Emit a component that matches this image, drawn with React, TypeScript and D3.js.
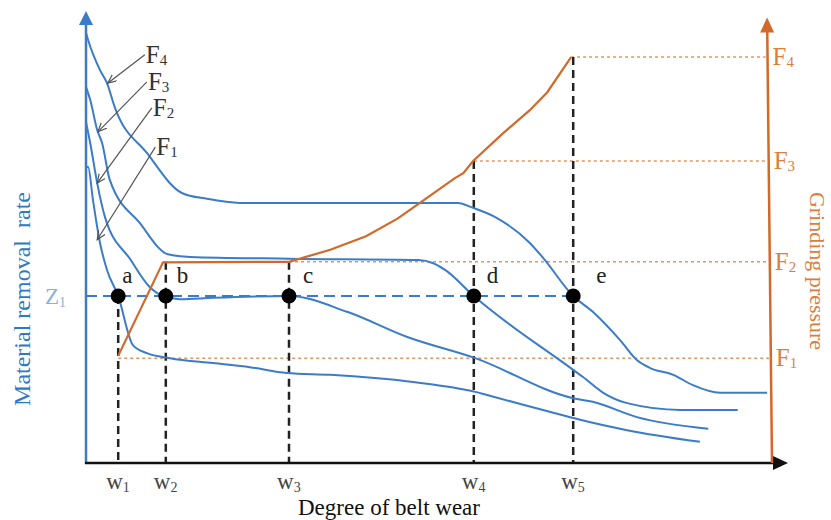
import React from "react";
import * as d3 from "d3";

const W = 831;
const H = 520;

// x: degree of belt wear (0..100), left y: material removal rate (0..100), right y: grinding pressure (0..100)
const wearTicks = [4.6, 11.4, 29.0, 55.4, 69.6];
const wearTickLabels = ["1", "2", "3", "4", "5"];
const pointLabels = ["a", "b", "c", "d", "e"];
const z1Rate = 37.1;
const pressureLevels = [23.3, 44.7, 67.1, 90.2]; // F1..F4
const pressureLabels = ["1", "2", "3", "4"];

// removal rate curves, one per grinding pressure
const f1Curve: [number, number][] = [
  [0, 65.8], [0.3, 65.8], [1.0, 58.4], [2.0, 48.9], [3.0, 42.9], [4.6, 37.1],
  [6.7, 26.2], [8.7, 24.4], [12.0, 23.3], [18.1, 22.2], [23.4, 21.3], [28.7, 20.0],
  [34.9, 19.6], [46.7, 18.0], [55.6, 15.8], [57.3, 15.1], [69.6, 10.0], [70.6, 9.6],
  [77.3, 7.3], [87.7, 4.7],
];
const f2Curve: [number, number][] = [
  [0, 75.8], [0.6, 71.1], [1.6, 62.2], [2.7, 54.7], [6.4, 45.1], [9.1, 39.1],
  [11.0, 37.1], [13.4, 36.4], [18.1, 36.7], [29.0, 37.1], [37.3, 33.6], [45.9, 28.0],
  [55.6, 23.3], [69.6, 14.4], [72.4, 13.6], [78.7, 10.2], [88.9, 7.6],
];
const f3Curve: [number, number][] = [
  [0, 83.6], [0.6, 80.7], [1.6, 74.0], [2.3, 71.1], [3.4, 62.9], [7.7, 53.3],
  [11.7, 46.4], [14.9, 45.8], [29.0, 45.4], [47.5, 45.1], [49.6, 44.4], [51.3, 42.9],
  [55.4, 37.1], [69.6, 20.7], [71.0, 19.1], [73.9, 15.6], [77.3, 13.3], [84.9, 11.8],
  [93.1, 11.8],
];
const f4Curve: [number, number][] = [
  [0, 95.6], [0.3, 94.0], [2.0, 87.3], [3.0, 84.4], [4.1, 79.1], [8.7, 68.9],
  [13.7, 60.0], [17.3, 58.7], [22.0, 57.8], [53.1, 57.8], [55.3, 56.7], [58.4, 54.7],
  [63.4, 48.9], [65.3, 45.6], [69.6, 37.1], [72.4, 33.6], [76.3, 27.3], [78.7, 22.9],
  [80.6, 21.1], [83.9, 19.6], [86.7, 17.3], [90.6, 15.6], [97.3, 15.6],
];
const rateCurves = [f1Curve, f2Curve, f3Curve, f4Curve];

// grinding pressure vs wear
const pressureCurve: [number, number][] = [
  [4.6, 23.8], [11.0, 44.6], [29.0, 44.7], [34.9, 47.4], [40.0, 50.4], [44.5, 54.3], [47.7, 57.8],
  [52.7, 63.3], [53.9, 64.4], [55.3, 67.1], [59.6, 73.3], [63.4, 78.4], [65.9, 82.4],
  [69.3, 90.2],
];

// annotation arrows F1..F4: label anchor -> point on curve
const noteFrom: [number, number][] = [[9.9, 70.2], [9.4, 78.9], [8.7, 84.7], [8.4, 90.7]];
const noteTo: [number, number][] = [[1.6, 49.6], [1.6, 62.2], [1.7, 73.6], [3.1, 84.4]];

const BLUE = "#3b7cc8";
const ORANGE = "#d2692a";
const SERIF = "Liberation Serif, Times New Roman, DejaVu Serif, serif";
const serif = (size: number, fill: string) => ({ fontFamily: SERIF, fontSize: size, fill });

export default function App() {
  const x = d3.scaleLinear().domain([0, 100]).range([86, 786]);
  const y = d3.scaleLinear().domain([0, 100]).range([463, 13]);
  const p = d3.scaleLinear().domain([0, 100]).range([463, 13]);

  const x0 = x(0);
  const y0 = y(0);
  // right axis leans a little to the left towards the top
  const rightX = d3.scaleLinear().domain([y0, p(99)]).range([x(98), x(97.3)]);

  const rateLine = d3
    .line<[number, number]>()
    .x((d) => x(d[0]))
    .y((d) => y(d[1]))
    .curve(d3.curveMonotoneX);
  const pressLine = d3
    .line<[number, number]>()
    .x((d) => x(d[0]))
    .y((d) => p(d[1]));

  // where each wear mark's dashed drop starts
  const dropTops = [
    y(z1Rate),
    p(pressureLevels[1]),
    p(pressureLevels[1]),
    p(pressureLevels[2]),
    p(pressureLevels[3]),
  ];
  // start of dotted pressure guides F1..F4
  const guideStart = [wearTicks[0], wearTicks[2], wearTicks[3], pressureCurve[pressureCurve.length - 1][0]];
  const labelShift = [4, 11, 14, 13, 23];

  const topTip = y(100) - 2;
  const rightTip = p(99);
  const xTip = x(100) + 2;

  return (
    <svg width={W} height={H} style={{ position: "absolute", left: 0, top: 0, background: "#fff" }}>
      <defs>
        <marker id="open" markerUnits="userSpaceOnUse" markerWidth={12} markerHeight={12} refX={9} refY={4} orient="auto">
          <path d="M0,0 L9,4 L0,8" fill="none" stroke="#555" strokeWidth={1.2} />
        </marker>
      </defs>

      {/* dotted pressure guides */}
      {pressureLevels.map((lv, i) => (
        <line
          key={"g" + i}
          x1={x(guideStart[i])}
          x2={rightX(p(lv)) - 2}
          y1={p(lv)}
          y2={p(lv)}
          stroke="#e8955c"
          strokeWidth={1.5}
          strokeDasharray="3 3"
        />
      ))}

      {/* black dashed drops */}
      {wearTicks.map((w, i) => (
        <line
          key={"v" + i}
          x1={x(w)}
          x2={x(w)}
          y1={dropTops[i]}
          y2={y0}
          stroke="#222"
          strokeWidth={2.5}
          strokeDasharray="8 5"
        />
      ))}

      {/* Z1 level */}
      <line
        x1={x0}
        x2={x(wearTicks[4])}
        y1={y(z1Rate)}
        y2={y(z1Rate)}
        stroke={BLUE}
        strokeWidth={2}
        strokeDasharray="11 6"
      />

      {/* removal rate curves */}
      {rateCurves.map((c, i) => (
        <path key={"c" + i} d={rateLine(c) ?? ""} fill="none" stroke={BLUE} strokeWidth={2} />
      ))}

      {/* pressure curve */}
      <path d={pressLine(pressureCurve) ?? ""} fill="none" stroke={ORANGE} strokeWidth={2.2} />

      {/* intersection points */}
      {wearTicks.map((w, i) => (
        <circle key={"p" + i} cx={x(w)} cy={y(z1Rate)} r={7.5} fill="#000" />
      ))}
      {pointLabels.map((t, i) => (
        <text key={"l" + i} x={x(wearTicks[i]) + labelShift[i]} y={283} style={serif(23, "#222")}>
          {t}
        </text>
      ))}

      {/* axes */}
      <line x1={x0} x2={x0} y1={y0 + 1} y2={topTip + 12} stroke={BLUE} strokeWidth={2.5} />
      <path d={`M${x0 - 7},${topTip + 14} L${x0},${topTip} L${x0 + 7},${topTip + 14} Z`} fill={BLUE} />
      <line x1={x0 - 1} x2={xTip - 13} y1={y0} y2={y0} stroke="#111" strokeWidth={2.5} />
      <path d={`M${xTip - 15},${y0 - 7} L${xTip},${y0} L${xTip - 15},${y0 + 7} Z`} fill="#111" />
      <line x1={rightX(y0)} x2={rightX(rightTip + 14)} y1={y0} y2={rightTip + 14} stroke={ORANGE} strokeWidth={2.5} />
      <path
        d={`M${rightX(rightTip) - 7},${rightTip + 15} L${rightX(rightTip)},${rightTip} L${rightX(rightTip) + 7},${rightTip + 15} Z`}
        fill={ORANGE}
      />

      {/* annotation arrows */}
      {noteFrom.map((f, i) => (
        <g key={"n" + i}>
          <line
            x1={x(f[0])}
            y1={y(f[1])}
            x2={x(noteTo[i][0])}
            y2={y(noteTo[i][1])}
            stroke="#555"
            strokeWidth={1.2}
            markerEnd="url(#open)"
          />
          <text x={x(f[0]) + 1} y={y(f[1]) + 8} style={serif(25, "#333")}>
            F<tspan style={{ fontSize: 15 }} dy={2}>{pressureLabels[i]}</tspan>
          </text>
        </g>
      ))}

      {/* right axis labels */}
      {pressureLevels.map((lv, i) => (
        <text key={"r" + i} x={rightX(p(lv)) + 5} y={p(lv) + 8} style={serif(25, "#d9803f")}>
          F<tspan style={{ fontSize: 15 }} dy={2}>{pressureLabels[i]}</tspan>
        </text>
      ))}

      {/* wear tick labels */}
      {wearTicks.map((w, i) => (
        <text key={"w" + i} x={x(w) - 12} y={489} style={serif(23, "#444")}>
          w<tspan style={{ fontSize: 14 }} dy={3}>{wearTickLabels[i]}</tspan>
        </text>
      ))}

      {/* Z1 */}
      <text x={45} y={y(z1Rate) + 8} style={serif(23, "#86b2df")}>
        Z<tspan style={{ fontSize: 14 }} dy={3}>1</tspan>
      </text>

      {/* axis titles */}
      <text
        transform={`translate(30, 299) rotate(-90)`}
        textAnchor="middle"
        style={{ ...serif(24, "#2f78c4"), whiteSpace: "pre" }}
      >
        {"Material removal  rate"}
      </text>
      <text transform={`translate(810, 271) rotate(90)`} textAnchor="middle" style={serif(22, "#e07b39")}>
        Grinding pressure
      </text>
      <text x={389} y={515} textAnchor="middle" style={serif(23, "#111")}>
        Degree of belt wear
      </text>
    </svg>
  );
}
